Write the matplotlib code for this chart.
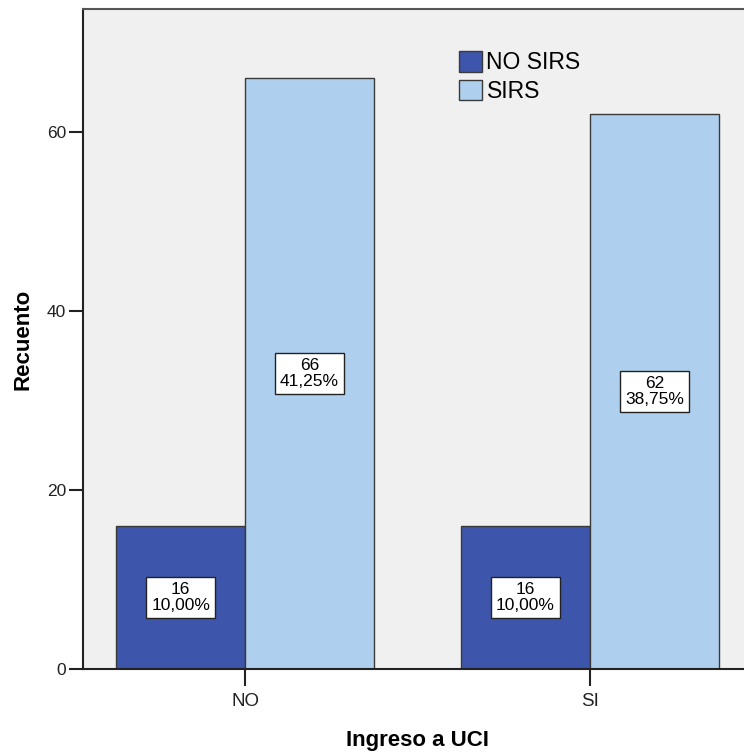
import matplotlib
matplotlib.use("Agg")
import matplotlib.pyplot as plt
import numpy as np

categories = ["NO", "SI"]
series_names = ["NO SIRS", "SIRS"]
no_sirs = [16, 16]
sirs = [66, 62]
no_sirs_pct = ["10,00%", "10,00%"]
sirs_pct = ["41,25%", "38,75%"]
yticks = [0, 20, 40, 60]

colors = ["#3D55AA", "#AED0EE"]
edge = "#3a3a3a"

plt.rcParams['font.family'] = ['Liberation Sans', 'DejaVu Sans']

fig = plt.figure(figsize=(7.44, 7.54), dpi=100)
ax = fig.add_axes([83/744, 85/754, 669/744, 660/754])
ax.set_facecolor("#F0F0F0")

x = np.arange(len(categories))
w = 0.374
b1 = ax.bar(x - w/2, no_sirs, w, color=colors[0], edgecolor=edge, linewidth=1, label=series_names[0], zorder=2)
b2 = ax.bar(x + w/2, sirs, w, color=colors[1], edgecolor=edge, linewidth=1, label=series_names[1], zorder=2)

for bars, vals, pcts in [(b1, no_sirs, no_sirs_pct), (b2, sirs, sirs_pct)]:
    for r, v, p in zip(bars, vals, pcts):
        ax.text(r.get_x() + r.get_width()/2, v/2, f"{v}\n{p}", ha="center", va="center",
                fontsize=12.5, linespacing=1.05, zorder=3,
                bbox=dict(boxstyle="square,pad=0.3", facecolor="white", edgecolor="#222222", linewidth=1))

ax.set_xlim(-0.47, 1.47)
ax.set_ylim(0, 73.7)
ax.set_xticks(x)
ax.set_xticklabels(categories)
ax.set_yticks(yticks)
ax.tick_params(axis="y", direction="out", length=10, width=1.5, labelsize=12.5, pad=2, colors="#222222")
ax.tick_params(axis="x", direction="out", length=12, width=1.5, labelsize=13.5, pad=5, colors="#222222")

for s in ["left", "bottom"]:
    ax.spines[s].set_linewidth(1.5)
    ax.spines[s].set_color("#222222")
ax.spines["top"].set_linewidth(1.5)
ax.spines["top"].set_color("#555555")
ax.spines["right"].set_visible(False)

ax.set_ylabel("Recuento", fontsize=16, fontweight="bold", labelpad=10)
ax.set_xlabel("Ingreso a UCI", fontsize=16, fontweight="bold", labelpad=15)

leg = ax.legend(loc="upper left", bbox_to_anchor=(459/744, 1 - 51/754), bbox_transform=fig.transFigure,
                frameon=False, fontsize=16.5, handlelength=1.0, handleheight=1.0, handletextpad=0.2,
                labelspacing=0.25, borderpad=0, borderaxespad=0)

fig.savefig("out.png", dpi=100)
